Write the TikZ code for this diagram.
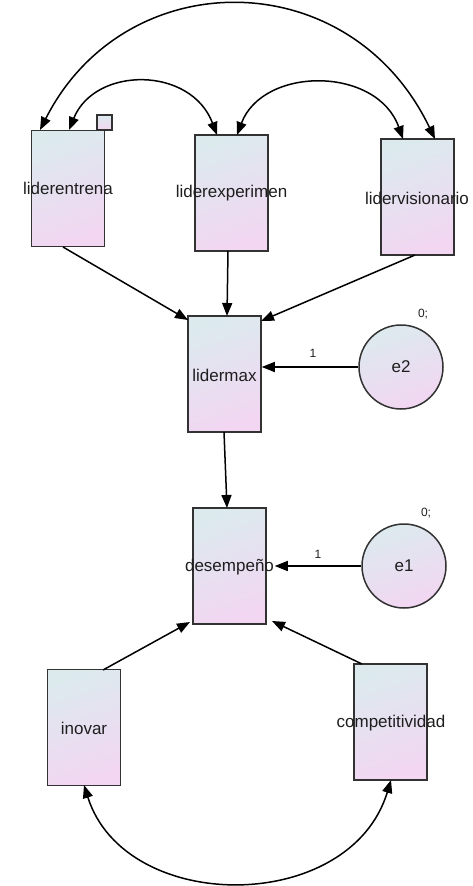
\documentclass[tikz,border=0pt]{standalone}
\usepackage{fontspec}
\setmainfont{Liberation Sans}
\usetikzlibrary{arrows.meta,shadings}
\definecolor{boxtop}{RGB}{220,234,238}
\definecolor{boxbot}{RGB}{242,214,242}
\definecolor{edgegray}{RGB}{50,50,50}
\definecolor{txt}{RGB}{30,30,30}
\tikzset{
  obs/.style={draw=edgegray, line width=1.5pt, shading=axis, top color=boxtop, bottom color=boxbot, shading angle=20,
    minimum width=73pt, minimum height=116pt, inner sep=0pt},
  lat/.style={draw=edgegray, line width=1.5pt, circle, top color=boxtop, bottom color=boxbot, shading angle=20,
    minimum size=84pt, inner sep=0pt, font=\fontsize{17}{19}\selectfont, text=txt},
  lbl/.style={font=\fontsize{17}{19}\selectfont, text=txt, inner sep=0pt},
  small/.style={font=\fontsize{12}{13}\selectfont, text=txt, inner sep=0pt},
  path/.style={line width=1.5pt, black, -{Triangle[length=13pt,width=10pt]}},
  cov/.style={line width=1.5pt, black, {Triangle[length=13pt,width=10pt]}-{Triangle[length=13pt,width=10pt]}}
}
\begin{document}
\begin{tikzpicture}[x=1pt,y=-1pt]
\useasboundingbox (0,0) rectangle (473,886);
% boxes
\node[obs] (le) at (68,188.5) {};
\node[lbl] (lel) at (68,188) {liderentrena};
\node[draw=edgegray, line width=1.3pt, top color=boxtop, bottom color=boxbot, minimum size=15pt, inner sep=0pt] (sq) at (104.5,122.5) {};
\node[obs] (lx) at (231.5,193) {};
\node[lbl] (lxl) at (231.5,193) {liderexperimen};
\node[obs] (lv) at (417.5,197) {};
\node[lbl] (lvl) at (417,198) {lidervisionario};
\node[obs] (lm) at (224.5,374) {};
\node[lbl] (lml) at (224.5,375) {lidermax};
\node[obs] (de) at (229.5,566) {};
\node[lbl] (del) at (229.5,567) {desempeño};
\node[obs] (in) at (84,727.5) {};
\node[lbl] (inl) at (84,728) {inovar};
\node[obs] (co) at (390.5,722) {};
\node[lbl] (col) at (391,723) {competitividad};
% latent errors
\node[lat] (e2) at (401,367) {e2};
\node[lat] (e1) at (404,566) {e1};
\node[small] (z2) at (423,314) {0;};
\node[small] (z1) at (426,513) {0;};
% covariances
\coordinate (a1) at (40,130);
\coordinate (a2) at (435,139);
\draw[cov] (a1) .. controls (125,-38) and (350,-38) .. (a2);
\coordinate (b1) at (69,130);
\coordinate (b2) at (217,135);
\draw[cov] (b1) .. controls (95,66) and (191,66) .. (b2);
\coordinate (c1) at (237,135);
\coordinate (c2) at (403,139);
\draw[cov] (c1) .. controls (263,66) and (377,66) .. (c2);
\coordinate (d1) at (84,785);
\coordinate (d2) at (391,780);
\draw[cov] (d1) .. controls (125,915) and (350,915) .. (d2);
% paths
\coordinate (p1) at (63,247);
\coordinate (p1e) at (188,320);
\draw[path] (p1) -- (p1e);
\coordinate (p2) at (228,251);
\coordinate (p2e) at (227,316);
\draw[path] (p2) -- (p2e);
\coordinate (p3) at (415,255);
\coordinate (p3e) at (261,321);
\draw[path] (p3) -- (p3e);
\coordinate (p4) at (224,432);
\coordinate (p4e) at (227,508);
\draw[path] (p4) -- (p4e);
\draw[path] (e2.west) -- (lm.east |- e2.west);
\draw[path] (e1.west) -- ([xshift=8pt]de.east |- e1.west);
\coordinate (p5) at (103,670);
\coordinate (p5e) at (190,622);
\draw[path] (p5) -- (p5e);
\coordinate (p6) at (362,664);
\coordinate (p6e) at (272,621);
\draw[path] (p6) -- (p6e);
% weights
\node[small] (w2) at (313,353) {1};
\node[small] (w1) at (318,554) {1};
\end{tikzpicture}
\end{document}
